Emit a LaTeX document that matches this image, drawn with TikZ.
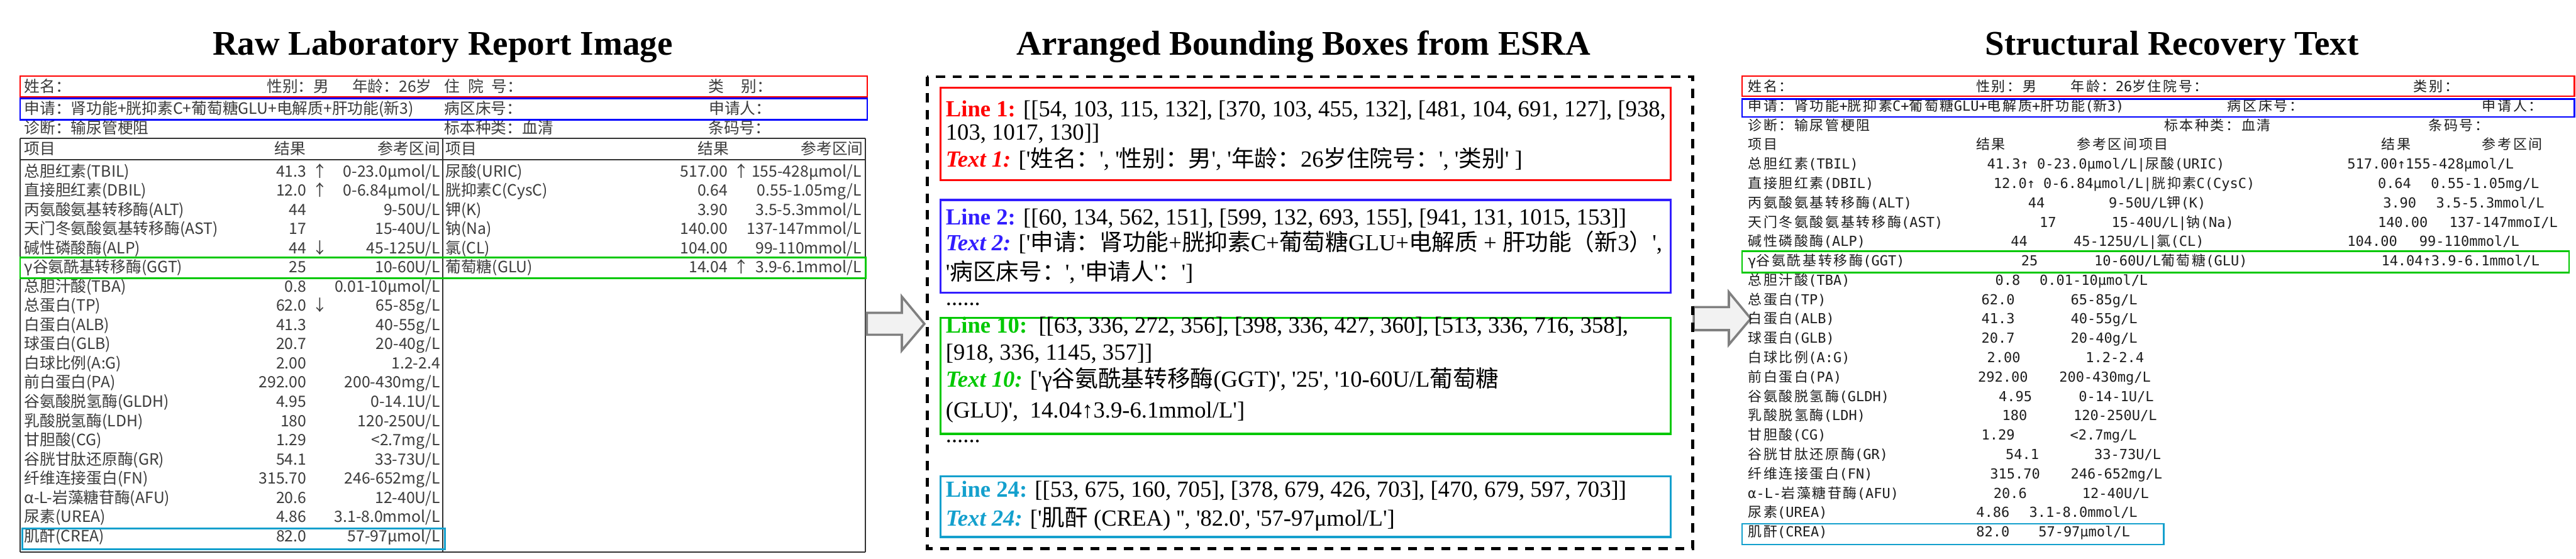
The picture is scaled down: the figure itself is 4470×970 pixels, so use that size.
\documentclass[tikz,border=0pt]{standalone}
\usepackage{fontspec}
\setmainfont{Liberation Serif}
\newfontfamily\cjkfont{Noto Sans CJK SC}
\newfontfamily\cjkfontR{Noto Sans CJK SC}[LetterSpace=12]
\newfontfamily\monofnt{DejaVu Sans Mono}
\newfontfamily\repfont{Noto Sans CJK SC}
\let\cjksel\cjkfont
\XeTeXinterchartokenstate=1
\newXeTeXintercharclass\cjkclass
\newcount\cjkc
\def\setcjkrange#1#2{\cjkc=#1\relax\loop\XeTeXcharclass\cjkc=\cjkclass\relax\ifnum\cjkc<#2\relax\advance\cjkc by 1\relax\repeat}
\setcjkrange{"3000}{"303F}
\setcjkrange{"4E00}{"9FFF}
\setcjkrange{"FF00}{"FFEF}
\XeTeXinterchartoks 0 \cjkclass = {\begingroup\cjksel}
\XeTeXinterchartoks 4095 \cjkclass = {\begingroup\cjksel}
\XeTeXinterchartoks \cjkclass 0 = {\endgroup}
\XeTeXinterchartoks \cjkclass 4095 = {\endgroup}
\newcommand\q{\textquotesingle}
\definecolor{myred}{RGB}{255,0,0}
\definecolor{myblue}{RGB}{0,0,255}
\definecolor{midblue}{RGB}{50,30,255}
\definecolor{mygreen}{RGB}{0,200,0}
\definecolor{mycyan}{RGB}{20,160,205}
\definecolor{reptext}{RGB}{60,60,60}
\definecolor{rectext}{RGB}{30,30,30}
\definecolor{tabline}{RGB}{50,50,50}
\definecolor{arrowfill}{RGB}{242,242,242}
\definecolor{arrowdraw}{RGB}{128,128,128}
\newcounter{nc}
\newcommand\T[4][]{\stepcounter{nc}\node[#2,#1] (t\arabic{nc}) at (#3) {#4};}
\newcommand\LRow[6]{\pgfmathsetmacro\yy{307+33.3*(#1-1)}%
 \T[anchor=base west]{rep}{{42+#2},\yy}{#3}%
 \T[anchor=base east]{rep}{{532+#2},\yy}{#4}%
 \T[anchor=base]{rep}{{555+#2},\yy}{#5}%
 \T[anchor=base east]{rep}{{764+#2},\yy}{#6}}
\newcommand\RS[3]{\pgfmathsetmacro\yy{226+33.6*(#2-3)}\T{rec}{#1,\yy}{#3}}
\tikzset{
 ttl/.style={font=\fontsize{60}{66}\selectfont\bfseries, anchor=base, inner sep=0},
 rep/.style={font=\fontsize{27}{30}\selectfont\repfont, text=reptext, inner sep=0},
 rec/.style={font=\fontsize{24}{28}\selectfont\monofnt\let\cjksel\cjkfontR, text=rectext, inner sep=0, anchor=base west},
 mid/.style={font=\fontsize{40}{44}\selectfont, inner sep=0, anchor=base west},
 hlbox/.style={line width=3pt},
 midbox/.style={line width=3.5pt},
 blockarrow/.style={fill=arrowfill, draw=arrowdraw, line width=4pt, line join=miter},
 tline/.style={draw=tabline, line width=2.5pt},
}
\begin{document}
\begin{tikzpicture}[x=1pt,y=-1pt]
\fill[white] (0,0) rectangle (4470,970);
\useasboundingbox (0,0) rectangle (4470,970);
% titles
\T{ttl}{768,95}{Raw Laboratory Report Image}
\T{ttl}{2262,95}{Arranged Bounding Boxes from ESRA}
\T{ttl}{3769,95}{Structural Recovery Text}
% ---------------- left panel ----------------
\T[anchor=base west]{rep}{42,160}{姓名：}
\T[anchor=base west]{rep}{463,160}{性别：男}
\T[anchor=base west]{rep}{611,160}{年龄：26岁}
\T[anchor=base west]{rep}{771,160}{住\hspace{14pt}院\hspace{14pt}号：}
\T[anchor=base west]{rep}{1229,160}{类\hspace{30pt}别：}
\T[anchor=base west]{rep}{42,198}{申请：肾功能+胱抑素C+葡萄糖GLU+电解质+肝功能(新3)}
\T[anchor=base west]{rep}{771,198}{病区床号：}
\T[anchor=base west]{rep}{1230,198}{申请人：}
\T[anchor=base west]{rep}{42,232}{诊断：输尿管梗阻}
\T[anchor=base west]{rep}{771,232}{标本种类：血清}
\T[anchor=base west]{rep}{1229,232}{条码号：}
\T[anchor=base west]{rep}{42,268}{项目}
\T[anchor=base west]{rep}{476,268}{结果}
\T[anchor=base east]{rep}{764,268}{参考区间}
\T[anchor=base west]{rep}{773,268}{项目}
\T[anchor=base west]{rep}{1211,268}{结果}
\T[anchor=base east]{rep}{1498,268}{参考区间}
\LRow{1}{0}{总胆红素(TBIL)}{41.3}{↑}{0-23.0μmol/L}
\LRow{2}{0}{直接胆红素(DBIL)}{12.0}{↑}{0-6.84μmol/L}
\LRow{3}{0}{丙氨酸氨基转移酶(ALT)}{44}{}{9-50U/L}
\LRow{4}{0}{天门冬氨酸氨基转移酶(AST)}{17}{}{15-40U/L}
\LRow{5}{0}{碱性磷酸酶(ALP)}{44}{↓}{45-125U/L}
\LRow{6}{0}{γ谷氨酰基转移酶(GGT)}{25}{}{10-60U/L}
\LRow{7}{0}{总胆汁酸(TBA)}{0.8}{}{0.01-10μmol/L}
\LRow{8}{0}{总蛋白(TP)}{62.0}{↓}{65-85g/L}
\LRow{9}{0}{白蛋白(ALB)}{41.3}{}{40-55g/L}
\LRow{10}{0}{球蛋白(GLB)}{20.7}{}{20-40g/L}
\LRow{11}{0}{白球比例(A:G)}{2.00}{}{1.2-2.4}
\LRow{12}{0}{前白蛋白(PA)}{292.00}{}{200-430mg/L}
\LRow{13}{0}{谷氨酸脱氢酶(GLDH)}{4.95}{}{0-14.1U/L}
\LRow{14}{0}{乳酸脱氢酶(LDH)}{180}{}{120-250U/L}
\LRow{15}{0}{甘胆酸(CG)}{1.29}{}{<2.7mg/L}
\LRow{16}{0}{谷胱甘肽还原酶(GR)}{54.1}{}{33-73U/L}
\LRow{17}{0}{纤维连接蛋白(FN)}{315.70}{}{246-652mg/L}
\LRow{18}{0}{α-L-岩藻糖苷酶(AFU)}{20.6}{}{12-40U/L}
\LRow{19}{0}{尿素(UREA)}{4.86}{}{3.1-8.0mmol/L}
\LRow{20}{0}{肌酐(CREA)}{82.0}{}{57-97μmol/L}
\LRow{1}{731}{尿酸(URIC)}{517.00}{↑}{155-428μmol/L}
\LRow{2}{731}{胱抑素C(CysC)}{0.64}{}{0.55-1.05mg/L}
\LRow{3}{731}{钾(K)}{3.90}{}{3.5-5.3mmol/L}
\LRow{4}{731}{钠(Na)}{140.00}{}{137-147mmol/L}
\LRow{5}{731}{氯(CL)}{104.00}{}{99-110mmol/L}
\LRow{6}{731}{葡萄糖(GLU)}{14.04}{↑}{3.9-6.1mmol/L}
% table lines
\draw[tline] (35,240) -- (1502,240);
\draw[tline] (35,277) -- (1502,277);
\draw[tline] (35,958) -- (1502,958);
\draw[tline] (35,240) -- (35,958);
\draw[tline] (1502,240) -- (1502,958);
\draw[tline] (768,240) -- (768,958);
% highlight boxes left
\draw[hlbox, myred] (35,132) rectangle (1505,168);
\draw[hlbox, myblue] (35,171) rectangle (1505,208);
\draw[hlbox, mygreen] (35,447) rectangle (1502,483);
\draw[hlbox, mycyan] (39,917) rectangle (772,953);
% ---------------- arrows ----------------
\draw[blockarrow] (1504,543) -- (1565,543) -- (1565,515) -- (1604,562) -- (1565,608) -- (1565,581) -- (1504,581) -- cycle;
\draw[blockarrow] (2939,533) -- (3000,533) -- (3000,507) -- (3038,553) -- (3000,598) -- (3000,573) -- (2939,573) -- cycle;
% ---------------- middle panel ----------------
\draw[black, line width=5pt, dash pattern=on 16pt off 13pt] (1609,133) rectangle (2937,952);
\draw[midbox, myred] (1632,152) rectangle (2899,313);
\draw[midbox, midblue] (1632,347) rectangle (2899,508);
\draw[midbox, mygreen] (1632,552) rectangle (2899,753);
\draw[midbox, mycyan] (1632,827) rectangle (2899,932);
\T{mid}{1641,202}{\textcolor{myred}{\textbf{Line 1:}} [[54, 103, 115, 132], [370, 103, 455, 132], [481, 104, 691, 127], [938,}
\T{mid}{1641,243}{103, 1017, 130]]}
\T{mid}{1641,290}{\textcolor{myred}{\textbf{\textit{Text 1:}}} [\q{}姓名：\q{}, \q{}性别：男\q{}, \q{}年龄：26岁住院号：\q{}, \q{}类别\q{} ]}
\T{mid}{1641,390}{\textcolor{midblue}{\textbf{Line 2:}} [[60, 134, 562, 151], [599, 132, 693, 155], [941, 131, 1015, 153]]}
\T{mid}{1641,435}{\textcolor{midblue}{\textbf{\textit{Text 2:}}} [\q{}申请：肾功能+胱抑素C+葡萄糖GLU+电解质 + 肝功能（新3）\q{},}
\T{mid}{1641,486}{\q{}病区床号：\q{}, \q{}申请人\q{}：\q{}]}
\T{mid}{1641,530}{......}
\T{mid}{1641,578}{\textcolor{mygreen}{\textbf{Line 10:}}\ \ [[63, 336, 272, 356], [398, 336, 427, 360], [513, 336, 716, 358],}
\T{mid}{1641,625}{[918, 336, 1145, 357]]}
\T{mid}{1641,672}{\textcolor{mygreen}{\textbf{\textit{Text 10:}}} [\q{}γ谷氨酰基转移酶(GGT)\q{}, \q{}25\q{}, \q{}10-60U/L葡萄糖}
\T{mid}{1641,725}{(GLU)\q{},\ \ 14.04↑3.9-6.1mmol/L\q{}]}
\T{mid}{1641,768}{......}
\T{mid}{1641,863}{\textcolor{mycyan}{\textbf{Line 24:}} [[53, 675, 160, 705], [378, 679, 426, 703], [470, 679, 597, 703]]}
\T{mid}{1641,913}{\textcolor{mycyan}{\textbf{\textit{Text 24:}}} [\q{}肌酐 (CREA) \q{}\q{}, \q{}82.0\q{}, \q{}57-97μmol/L\q{}]}
% ---------------- right panel ----------------
\RS{3033}{1}{姓名：}\RS{3429}{1}{性别：男}\RS{3593}{1}{年龄：26岁住院号：}\RS{4188}{1}{类别：}
\RS{3033}{2}{申请：肾功能+胱抑素C+葡萄糖GLU+电解质+肝功能(新3)}\RS{3865}{2}{病区床号：}\RS{4307}{2}{申请人：}
\RS{3033}{3}{诊断：输尿管梗阻}\RS{3755}{3}{标本种类：血清}\RS{4214}{3}{条码号：}
\RS{3033}{4}{项目}\RS{3429}{4}{结果}\RS{3604}{4}{参考区间项目}\RS{4132}{4}{结果}\RS{4307}{4}{参考区间}
\RS{3033}{5}{总胆红素(TBIL)}\RS{3448}{5}{41.3↑ 0-23.0μmol/L|尿酸(URIC)}\RS{4073}{5}{517.00↑155-428μmol/L}
\RS{3033}{6}{直接胆红素(DBIL)}\RS{3459}{6}{12.0↑ 0-6.84μmol/L|胱抑素C(CysC)}\RS{4126}{6}{0.64}\RS{4218}{6}{0.55-1.05mg/L}
\RS{3033}{7}{丙氨酸氨基转移酶(ALT)}\RS{3519}{7}{44}\RS{3659}{7}{9-50U/L钾(K)}\RS{4135}{7}{3.90}\RS{4227}{7}{3.5-5.3mmol/L}
\RS{3033}{8}{天门冬氨酸氨基转移酶(AST)}\RS{3539}{8}{17}\RS{3664}{8}{15-40U/L|钠(Na)}\RS{4126}{8}{140.00}\RS{4250}{8}{137-147mmoI/L}
\RS{3033}{9}{碱性磷酸酶(ALP)}\RS{3489}{9}{44}\RS{3598}{9}{45-125U/L|氯(CL)}\RS{4073}{9}{104.00}\RS{4198}{9}{99-110mmol/L}
\RS{3033}{10}{γ谷氨酰基转移酶(GGT)}\RS{3507}{10}{25}\RS{3634}{10}{10-60U/L葡萄糖(GLU)}\RS{4132}{10}{14.04↑3.9-6.1mmol/L}
\RS{3033}{11}{总胆汁酸(TBA)}\RS{3462}{11}{0.8}\RS{3539}{11}{0.01-10μmol/L}
\RS{3033}{12}{总蛋白(TP)}\RS{3438}{12}{62.0}\RS{3593}{12}{65-85g/L}
\RS{3033}{13}{白蛋白(ALB)}\RS{3438}{13}{41.3}\RS{3593}{13}{40-55g/L}
\RS{3033}{14}{球蛋白(GLB)}\RS{3438}{14}{20.7}\RS{3593}{14}{20-40g/L}
\RS{3033}{15}{白球比例(A:G)}\RS{3448}{15}{2.00}\RS{3619}{15}{1.2-2.4}
\RS{3033}{16}{前白蛋白(PA)}\RS{3432}{16}{292.00}\RS{3573}{16}{200-430mg/L}
\RS{3033}{17}{谷氨酸脱氢酶(GLDH)}\RS{3468}{17}{4.95}\RS{3607}{17}{0-14-1U/L}
\RS{3033}{18}{乳酸脱氢酶(LDH)}\RS{3474}{18}{180}\RS{3598}{18}{120-250U/L}
\RS{3033}{19}{甘胆酸(CG)}\RS{3438}{19}{1.29}\RS{3592}{19}{<2.7mg/L}
\RS{3033}{20}{谷胱甘肽还原酶(GR)}\RS{3480}{20}{54.1}\RS{3634}{20}{33-73U/L}
\RS{3033}{21}{纤维连接蛋白(FN)}\RS{3453}{21}{315.70}\RS{3593}{21}{246-652mg/L}
\RS{3033}{22}{α-L-岩藻糖苷酶(AFU)}\RS{3459}{22}{20.6}\RS{3613}{22}{12-40U/L}
\RS{3033}{23}{尿素(UREA)}\RS{3429}{23}{4.86}\RS{3521}{23}{3.1-8.0mmol/L}
\RS{3033}{24}{肌酐(CREA)}\RS{3429}{24}{82.0}\RS{3537}{24}{57-97μmol/L}
\draw[hlbox, myred] (3023,132) rectangle (4467,167);
\draw[hlbox, myblue] (3023,172) rectangle (4467,203);
\draw[hlbox, mygreen] (3023,436) rectangle (4458,473);
\draw[hlbox, mycyan] (3023,909) rectangle (3755,945);
\end{tikzpicture}
\end{document}
